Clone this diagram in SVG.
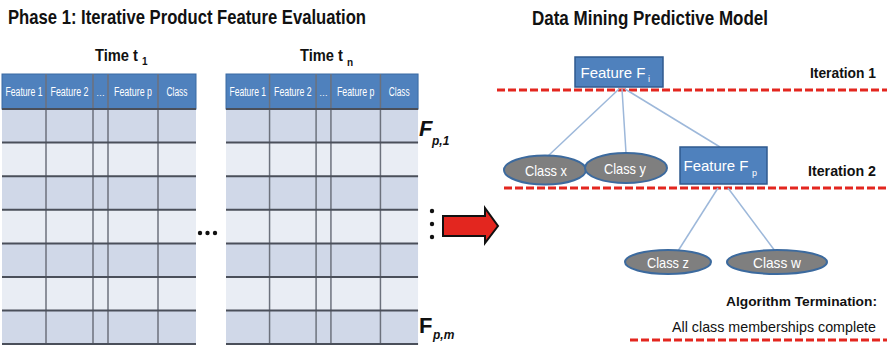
<svg xmlns="http://www.w3.org/2000/svg" width="887" height="350" viewBox="0 0 887 350">
<style>
.t{font-family:"Liberation Sans",Arial,sans-serif;font-weight:bold;fill:#111}
.hd{fill:#4f81bd;stroke:#3a6aa3;stroke-width:1}
.ht{font-family:"Liberation Sans",Arial,sans-serif;font-size:12.5px;fill:#fff;text-anchor:middle}
.rd{fill:#d0d8e8}
.rl{fill:#e9edf4}
.hl{stroke:#4a4f5a;stroke-width:2}
.vl{stroke:#6c717c;stroke-width:1.5}
.red{stroke:#e3261f;stroke-width:3;stroke-dasharray:8 3;fill:none}
.con{stroke:#9db8da;stroke-width:1.5;fill:none}
.box{fill:#4f81bd;stroke:#2f5a8f;stroke-width:1.5}
.ell{fill:#7f7f7f;stroke:#3c6a9e;stroke-width:2}
.wt{font-family:"Liberation Sans",Arial,sans-serif;font-size:15px;fill:#fff;text-anchor:middle}
.sub{font-family:"Liberation Sans",Arial,sans-serif;font-size:9px;fill:#fff}
.lb{font-family:"Liberation Sans",Arial,sans-serif;font-weight:bold;font-size:15px;fill:#111}
</style>
<defs>
<g id="tbl">
<rect x="0" y="0" width="194" height="35" class="hd"/>
<rect x="0" y="35" width="194" height="33.6" class="rd"/>
<rect x="0" y="68.6" width="194" height="33.6" class="rl"/>
<rect x="0" y="102.2" width="194" height="33.6" class="rd"/>
<rect x="0" y="135.8" width="194" height="33.6" class="rl"/>
<rect x="0" y="169.4" width="194" height="33.6" class="rd"/>
<rect x="0" y="203" width="194" height="33.6" class="rl"/>
<rect x="0" y="236.6" width="194" height="33.4" class="rd"/>
<g class="vl">
<line x1="44" y1="0" x2="44" y2="270"/>
<line x1="91" y1="0" x2="91" y2="270"/>
<line x1="106" y1="0" x2="106" y2="270"/>
<line x1="156" y1="0" x2="156" y2="270"/>
</g>
<g class="hl">
<line x1="0" y1="35" x2="194" y2="35"/>
<line x1="0" y1="68.6" x2="194" y2="68.6"/>
<line x1="0" y1="102.2" x2="194" y2="102.2"/>
<line x1="0" y1="135.8" x2="194" y2="135.8"/>
<line x1="0" y1="169.4" x2="194" y2="169.4"/>
<line x1="0" y1="203" x2="194" y2="203"/>
<line x1="0" y1="236.6" x2="194" y2="236.6"/>
<line x1="0" y1="270" x2="194" y2="270"/>
</g>
<text class="ht" x="22" y="22" textLength="37" lengthAdjust="spacingAndGlyphs">Feature 1</text>
<text class="ht" x="67.5" y="22" textLength="38" lengthAdjust="spacingAndGlyphs">Feature 2</text>
<text class="ht" x="98.5" y="22" style="font-size:9px">…</text>
<text class="ht" x="131" y="22" textLength="38" lengthAdjust="spacingAndGlyphs">Feature p</text>
<text class="ht" x="175" y="22" textLength="21" lengthAdjust="spacingAndGlyphs">Class</text>
</g>
</defs>

<text class="t" x="8" y="24" font-size="21" textLength="358" lengthAdjust="spacingAndGlyphs">Phase 1: Iterative Product Feature Evaluation</text>
<text class="t" x="532" y="25" font-size="20" textLength="236" lengthAdjust="spacingAndGlyphs">Data Mining Predictive Model</text>

<g id="table1">
<text class="t" x="95" y="61" font-size="16" textLength="43" lengthAdjust="spacingAndGlyphs">Time t</text>
<text class="t" x="142" y="65" font-size="10">1</text>
<use href="#tbl" x="2" y="74"/>
</g>
<g id="table2">
<text class="t" x="300" y="61" font-size="16" textLength="43" lengthAdjust="spacingAndGlyphs">Time t</text>
<text class="t" x="347" y="66" font-size="10">n</text>
<use href="#tbl" x="226" y="74" transform="translate(226 74) scale(0.99 1) translate(-226 -74)"/>
</g>
<g id="ellipsis">
<circle cx="200" cy="233" r="2.2" fill="#111"/>
<circle cx="207.5" cy="233" r="2.2" fill="#111"/>
<circle cx="215" cy="233" r="2.2" fill="#111"/>
</g>
<g id="fp1">
<text class="t" x="419" y="136" font-size="22" font-style="italic">F</text>
<text class="t" x="432" y="145" font-size="12" font-style="italic">p,1</text>
</g>
<g id="vdots">
<circle cx="432" cy="211" r="2.2" fill="#111"/>
<circle cx="432" cy="224" r="2.2" fill="#111"/>
<circle cx="432" cy="237" r="2.2" fill="#111"/>
</g>
<g id="fpm">
<text class="t" x="419" y="333" font-size="22">F</text>
<text class="t" x="433" y="339" font-size="12" font-style="italic">p,m</text>
</g>
<g id="arrow">
<polygon points="443,216 485,216 485,208 498,226 485,243 485,236 443,236" fill="#e3261f" stroke="#111" stroke-width="2" stroke-linejoin="miter"/>
</g>

<g id="connectors">
<line class="red" x1="497" y1="90" x2="887" y2="90"/>
<line class="red" x1="504" y1="188" x2="887" y2="188"/>
<line class="red" x1="630" y1="340" x2="887" y2="340"/>
<line class="con" x1="619" y1="89" x2="548" y2="156"/>
<line class="con" x1="622" y1="89" x2="626" y2="153"/>
<line class="con" x1="625" y1="89" x2="720" y2="147"/>
<line class="con" x1="718" y1="188" x2="678" y2="251"/>
<line class="con" x1="728" y1="188" x2="775" y2="251"/>
</g>

<g id="featureFi">
<rect class="box" x="575" y="57" width="88" height="30"/>
<text class="wt" x="613" y="78">Feature F</text>
<text class="sub" x="648" y="82">i</text>
</g>
<g id="classX">
<ellipse class="ell" cx="545" cy="170" rx="41" ry="14.5"/>
<text class="wt" x="546" y="176" textLength="42" lengthAdjust="spacingAndGlyphs">Class x</text>
</g>
<g id="classY">
<ellipse class="ell" cx="626" cy="168" rx="41" ry="15"/>
<text class="wt" x="625" y="174" textLength="42" lengthAdjust="spacingAndGlyphs">Class y</text>
</g>
<g id="featureFp">
<rect class="box" x="680" y="147" width="87" height="37"/>
<text class="wt" x="716" y="171">Feature F</text>
<text class="sub" x="752" y="176">p</text>
</g>
<g id="classZ">
<ellipse class="ell" cx="668" cy="262" rx="43" ry="12"/>
<text class="wt" x="668" y="268" textLength="42" lengthAdjust="spacingAndGlyphs">Class z</text>
</g>
<g id="classW">
<ellipse class="ell" cx="777" cy="262" rx="50" ry="12"/>
<text class="wt" x="777" y="268" textLength="48" lengthAdjust="spacingAndGlyphs">Class  w</text>
</g>
<text class="lb" x="810" y="78" textLength="66" lengthAdjust="spacingAndGlyphs">Iteration 1</text>
<text class="lb" x="808" y="176" textLength="68" lengthAdjust="spacingAndGlyphs">Iteration 2</text>
<text class="lb" x="877" y="306" style="font-size:13px" text-anchor="end" textLength="151" lengthAdjust="spacingAndGlyphs">Algorithm Termination:</text>
<text x="672" y="332" font-family="Liberation Sans, Arial, sans-serif" font-size="15" fill="#111" textLength="204" lengthAdjust="spacingAndGlyphs">All class memberships complete</text>
</svg>
